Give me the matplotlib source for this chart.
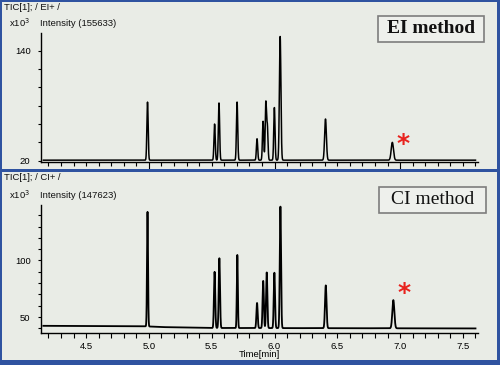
import numpy as np
import matplotlib.pyplot as plt
from matplotlib.patches import Rectangle
from matplotlib.ticker import MultipleLocator, FixedLocator

# ---- data ----
ei_rt = [4.989, 5.523, 5.558, 5.702, 5.861, 5.909, 5.931, 5.943, 5.999, 6.045, 6.406, 6.938]
ei_top = [84, 60, 83, 84, 44, 63, 83, 57, 78, 155.6, 65.5, 40]
ei_sigma = [0.005, 0.005, 0.005, 0.005, 0.005, 0.005, 0.005, 0.005, 0.005, 0.006, 0.007, 0.009]
ei_base = 20.6

ci_rt = [4.989, 5.523, 5.561, 5.704, 5.861, 5.910, 5.938, 5.999, 6.047, 6.408, 6.946]
ci_top = [143, 90, 102, 105, 62.5, 82, 89.5, 89.2, 147.6, 78, 65]
ci_sigma = [0.004, 0.005, 0.005, 0.004, 0.005, 0.005, 0.005, 0.005, 0.005, 0.006, 0.008]
ci_base_t = [4.16, 4.95, 5.1, 5.5, 7.6]
ci_base_v = [42.3, 42.0, 41.2, 40.4, 40.0]

x_labels = ["4.5", "5.0", "5.5", "6.0", "6.5", "7.0", "7.5"]
ei_title = "TIC[1]; / EI+ /"
ci_title = "TIC[1]; / CI+ /"
ei_intensity = "Intensity (155633)"
ci_intensity = "Intensity (147623)"

BG = "#e9ece6"
BLUE = "#2f53a0"

t = np.linspace(4.16, 7.60, 6000)

def trace(rts, tops, sig, base):
    y = np.array(base, dtype=float) * np.ones_like(t)
    b = np.interp(rts, t, y)
    for r, h, s, bb in zip(rts, tops, sig, b):
        y = y + (h - bb) * np.exp(-0.5 * ((t - r) / s) ** 2)
    return y

ei_y = trace(ei_rt, ei_top, ei_sigma, ei_base)
ci_y = trace(ci_rt, ci_top, ci_sigma, np.interp(t, ci_base_t, ci_base_v))

W, H = 500, 365
fig = plt.figure(figsize=(5, 3.65), dpi=100, facecolor=BG)

def fx(px):
    return px / W

def fy(py):
    return (H - py) / H

ax1 = fig.add_axes([fx(41), fy(162), fx(478 - 41), (162 - 33) / H])
ax2 = fig.add_axes([fx(41), fy(333.3), fx(478 - 41), (333.3 - 205) / H])

font = "Liberation Sans"
for ax, y, ylim, lw in ((ax1, ei_y, (18.6, 159.4), 1.1), (ax2, ci_y, (35.7, 149.0), 1.3)):
    ax.set_facecolor(BG)
    ax.plot(t, y, color="black", lw=lw)
    ax.set_xlim(4.141, 7.62)
    ax.set_ylim(*ylim)
    for s in ("top", "right"):
        ax.spines[s].set_visible(False)
    for s in ("left", "bottom"):
        ax.spines[s].set_linewidth(1.0)
    ax.xaxis.set_minor_locator(MultipleLocator(0.1))
    ax.tick_params(axis="both", which="both", direction="out", width=0.8,
                   labelsize=6.5, colors="black")

# top panel ticks
ax1.xaxis.set_major_locator(FixedLocator([5.0, 6.0, 7.0]))
ax1.tick_params(axis="x", which="major", length=6, labelbottom=False)
ax1.tick_params(axis="x", which="minor", length=3)
ax1.yaxis.set_major_locator(FixedLocator([20, 140]))
ax1.yaxis.set_minor_locator(MultipleLocator(20))
ax1.tick_params(axis="y", which="both", length=2.5, pad=5)
ax1.set_yticklabels(["20", "140"], family=font, fontsize=6.8)

# bottom panel ticks
ax2.xaxis.set_major_locator(FixedLocator([4.5, 5.0, 5.5, 6.0, 6.5, 7.0, 7.5]))
ax2.set_xticklabels(x_labels, family=font, fontsize=6.8)
ax2.tick_params(axis="x", which="both", length=3.5, pad=3)
ax2.yaxis.set_major_locator(FixedLocator([50, 100]))
ax2.yaxis.set_minor_locator(MultipleLocator(10))
ax2.tick_params(axis="y", which="both", length=2.5, pad=5)
ax2.set_yticklabels(["50", "100"], family=font, fontsize=6.8)
ax2.set_xlabel("Time[min]", family=font, fontsize=6.8, labelpad=-1)

# red asterisks
ax1.text(7.02, 38.5, "*", color="#e8231e", fontsize=18, fontweight="bold",
         ha="center", va="center", family="DejaVu Sans")
ax2.text(7.028, 71.5, "*", color="#e8231e", fontsize=18, fontweight="bold",
         ha="center", va="center", family="DejaVu Sans")

# header texts
tkw = dict(family=font, fontsize=6.8, color="#111111", va="center", ha="left")
fig.text(fx(4), fy(7), ei_title, **tkw)
fig.text(fx(9), fy(23), r"x10$^3$", **tkw)
fig.text(fx(40), fy(23), ei_intensity, **tkw)
fig.text(fx(4), fy(177), ci_title, **tkw)
fig.text(fx(9), fy(195), r"x10$^3$", **tkw)
fig.text(fx(40), fy(195), ci_intensity, **tkw)

# method boxes
for (x0, x1, y0, y1, label, wt) in ((378, 484, 15.7, 41.7, "EI method", "bold"),
                                     (379, 486, 186.7, 213.3, "CI method", "normal")):
    fig.add_artist(Rectangle((fx(x0), fy(y1)), fx(x1 - x0), (y1 - y0) / H,
                             transform=fig.transFigure, facecolor="#eef0ec",
                             edgecolor="#7d7d7d", lw=1.2))
    fig.text(fx((x0 + x1) / 2), fy((y0 + y1) / 2), label, family="Liberation Serif",
             fontsize=14, fontweight=wt, ha="center", va="center", color="#111111")

# blue frame
def band(x0, y0, x1, y1):
    fig.add_artist(Rectangle((fx(x0), fy(y1)), fx(x1 - x0), (y1 - y0) / H,
                             transform=fig.transFigure, facecolor=BLUE,
                             edgecolor="none", lw=0))

band(0, 0, 500, 2)       # top
band(0, 0, 2, 365)       # left
band(497, 0, 500, 365)   # right
band(0, 168.5, 500, 171.5)  # separator
band(0, 360, 500, 365)   # bottom

fig.savefig("out.png", dpi=100, facecolor=BG)
